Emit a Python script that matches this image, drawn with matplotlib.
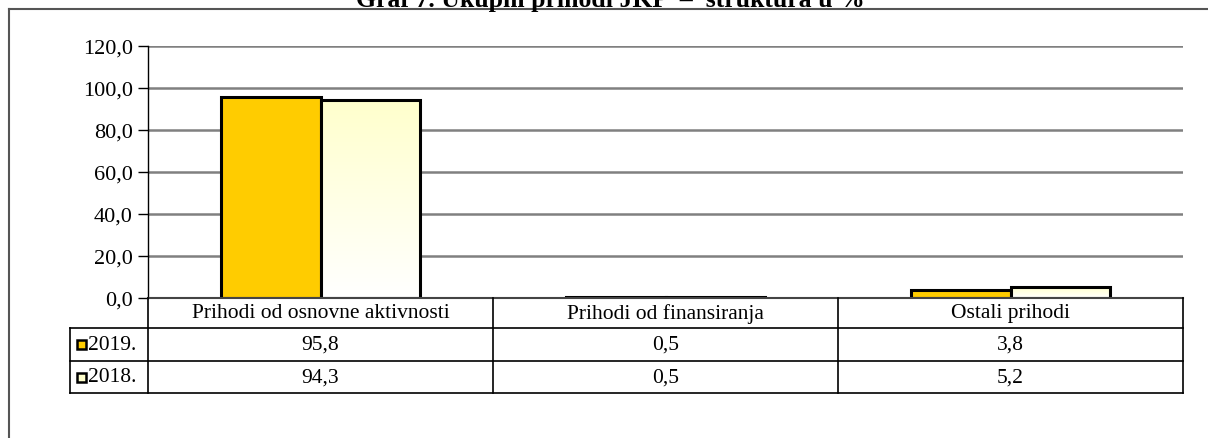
import numpy as np
import matplotlib
matplotlib.use('Agg')
import matplotlib.pyplot as plt
from matplotlib.lines import Line2D
from matplotlib.patches import Rectangle
from matplotlib.colors import LinearSegmentedColormap

plt.rcParams['font.family'] = ['Liberation Serif', 'DejaVu Serif']

# podaci
kategorije = ['Prihodi od osnovne aktivnosti', 'Prihodi od finansiranja', 'Ostali prihodi']
godine = ['2019.', '2018.']
v2019 = [95.8, 0.5, 3.8]
v2018 = [94.3, 0.5, 5.2]
boje = ['#FFCC00', '#FFFFCC']
yticks = [0, 20, 40, 60, 80, 100, 120]

W, H = 1208, 439
fig = plt.figure(figsize=(W / 100, H / 100), dpi=100)

def fx(px):
    return px / W

def fy(py):
    return 1 - py / H

# okvir
fig.add_artist(Line2D([fx(9), fx(9)], [fy(10), 0], color='#555555', lw=1.5))
fig.add_artist(Line2D([fx(9), 1], [fy(10), fy(10)], color='#555555', lw=1.5))

fig.text(fx(610), fy(7), 'Graf 7. Ukupni prihodi JKP  –  struktura u %',
         ha='center', va='baseline', fontsize=18.5, fontweight='bold')

x0, x1, ytop, ybot = 148, 1183, 47, 299
ax = fig.add_axes([fx(x0), fy(ybot), fx(x1 - x0), (ybot - ytop) / H])
n = len(kategorije)
x = np.arange(n)
sirina = 0.287
ax.set_yticks(yticks)
ax.set_yticklabels([f'{t:.1f}'.replace('.', ',') for t in yticks], fontsize=16)
ax.tick_params(axis='y', length=7, width=1, pad=4)
ax.set_xticks([])
for t in yticks:
    ax.axhline(t, color='#808080', lw=1.8, zorder=0)
for s in ['top', 'right']:
    ax.spines[s].set_visible(False)
ax.spines['left'].set_linewidth(1)
ax.spines['bottom'].set_visible(False)

ax.bar(x - sirina / 2, v2019, sirina, color=boje[0], edgecolor='black', lw=2.2, zorder=3)
bars = ax.bar(x + sirina / 2, v2018, sirina, color='none', edgecolor='black', lw=2.2, zorder=4)
grad = np.linspace(1, 0, 256).reshape(-1, 1)
cmap = LinearSegmentedColormap.from_list('g', ['#FFFFFF', '#FFFFCC'])
for b in bars:
    bx, by = b.get_x(), b.get_y()
    bw, bh = b.get_width(), b.get_height()
    im = ax.imshow(grad, extent=[bx, bx + bw, by, by + bh], aspect='auto',
                   cmap=cmap, vmin=0, vmax=1, zorder=3)
    im.set_clip_path(Rectangle((bx, by), bw, bh, transform=ax.transData))
ax.set_xlim(-0.5, n - 0.5)
ax.set_ylim(0, 120)

# tabela
redovi = [299, 329, 362, 394]
leg_x = 70
kol = [x0 + i * (x1 - x0) / n for i in range(n + 1)]
crta = dict(color='black', lw=1.2)
fig.add_artist(Line2D([fx(x0), fx(x1)], [fy(299), fy(299)], color='#444444', lw=1.5))
for r in redovi[1:]:
    fig.add_artist(Line2D([fx(leg_x), fx(x1)], [fy(r), fy(r)], **crta))
fig.add_artist(Line2D([fx(leg_x), fx(leg_x)], [fy(329), fy(394)], **crta))
for c in kol:
    fig.add_artist(Line2D([fx(c), fx(c)], [fy(299), fy(394)], **crta))

for i, k in enumerate(kategorije):
    cx = (kol[i] + kol[i + 1]) / 2
    fig.text(fx(cx), fy(314), k, ha='center', va='center', fontsize=15.5)
    for j, vals in enumerate([v2019, v2018]):
        cy = (redovi[j + 1] + redovi[j + 2]) / 2
        fig.text(fx(cx), fy(cy), f'{vals[i]:.1f}'.replace('.', ','),
                 ha='center', va='center', fontsize=15.5)

for j, g in enumerate(godine):
    cy = (redovi[j + 1] + redovi[j + 2]) / 2
    fig.add_artist(Rectangle((fx(77), fy(cy + 4.5)), fx(9), 9 / H, facecolor=boje[j],
                             edgecolor='black', lw=1.8))
    fig.text(fx(88), fy(cy), g, ha='left', va='center', fontsize=15.5)

fig.savefig('out.png', dpi=100)
